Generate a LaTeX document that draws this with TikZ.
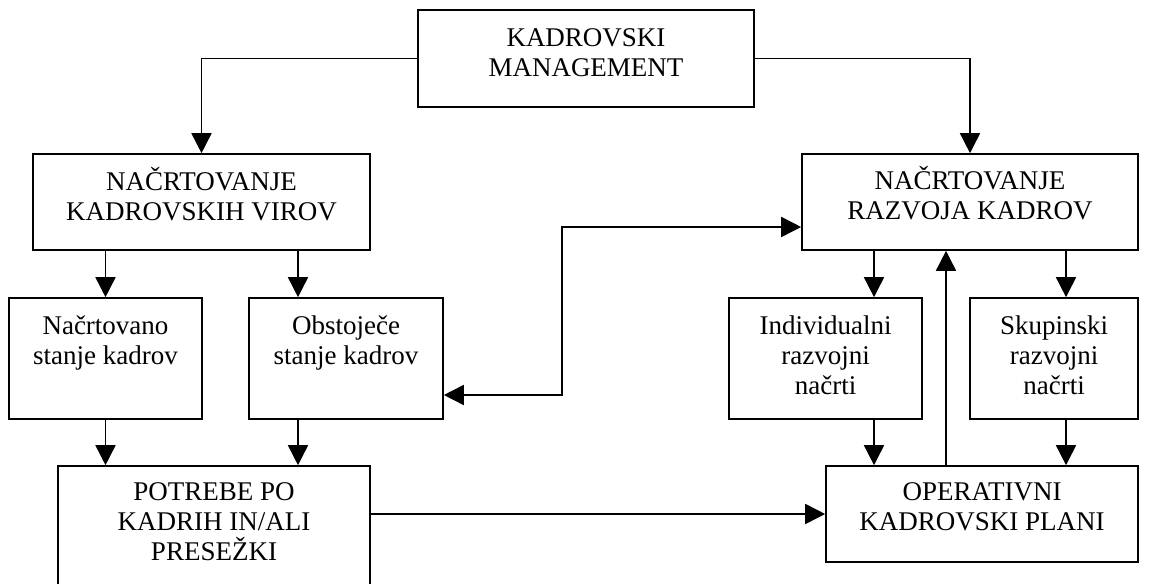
\documentclass[tikz,border=0pt]{standalone}
\usepackage{fontspec}
\setmainfont{Liberation Serif}
\usetikzlibrary{arrows.meta}
\tikzset{
	okvir/.style={draw, line width=0.8pt, inner sep=0pt},
	besedilo/.style={anchor=base, align=center, inner sep=0pt, font=\fontsize{13.5}{15}\selectfont},
}
\begin{document}
\begin{tikzpicture}[x=0.5pt, y=-0.5pt, >={Triangle[length=10pt,width=10pt]}, line width=0.8pt]
	\useasboundingbox (0,0) rectangle (1159,583);
	% okvirji
	\node[okvir, minimum width=168pt, minimum height=48.5pt] (mgmt) at (586,58.5) {};
	\node[okvir, minimum width=168.5pt, minimum height=48pt] (virov) at (201.5,202) {};
	\node[okvir, minimum width=168pt, minimum height=48pt] (razvoj) at (970,202) {};
	\node[okvir, minimum width=96.5pt, minimum height=60.5pt] (nacrt) at (105.5,358.5) {};
	\node[okvir, minimum width=97pt, minimum height=60.5pt] (obst) at (346,358.5) {};
	\node[okvir, minimum width=96.5pt, minimum height=60.5pt] (indiv) at (825.5,358.5) {};
	\node[okvir, minimum width=84pt, minimum height=60.5pt] (skup) at (1054,358.5) {};
	\node[okvir, minimum width=156pt, minimum height=72pt] (potreb) at (214,538) {};
	\node[okvir, minimum width=156pt, minimum height=48pt] (oper) at (982,514) {};
	% besedila (base = zadnja vrstica)
	\node[besedilo, yshift=-33.5pt] (mgmt-t) at (mgmt.north) {KADROVSKI\\MANAGEMENT};
	\node[besedilo, yshift=-33.5pt] (virov-t) at (virov.north) {NAČRTOVANJE\\KADROVSKIH VIROV};
	\node[besedilo, yshift=-33pt] (razvoj-t) at (razvoj.north) {NAČRTOVANJE\\RAZVOJA KADROV};
	\node[besedilo, yshift=-33.5pt] (nacrt-t) at (nacrt.north) {Načrtovano\\stanje kadrov};
	\node[besedilo, yshift=-33.5pt] (obst-t) at (obst.north) {Obstoječe\\stanje kadrov};
	\node[besedilo, yshift=-48.5pt] (indiv-t) at (indiv.north) {Individualni\\razvojni\\načrti};
	\node[besedilo, yshift=-48.5pt] (skup-t) at (skup.north) {Skupinski\\razvojni\\načrti};
	\node[besedilo, yshift=-47.5pt] (potreb-t) at (potreb.north) {POTREBE PO\\KADRIH IN/ALI\\PRESEŽKI};
	\node[besedilo, yshift=-32.5pt] (oper-t) at (oper.north) {OPERATIVNI\\KADROVSKI PLANI};
	% tocke za puscice
	\coordinate (xo) at (298,0);
	\coordinate (xi) at (874,0);
	\coordinate (xu) at (946,0);
	\coordinate (xs) at (1066,0);
	\coordinate (b1) at (562,395);
	\coordinate (b2) at (562,227);
	% puscice
	\draw[->] (mgmt.west) -| (virov.north);
	\draw[->] (mgmt.east) -| (razvoj.north);
	\draw[->] (virov.south -| nacrt.north) -- (nacrt.north);
	\draw[->] (virov.south -| xo) -- (obst.north -| xo);
	\draw[->] (nacrt.south) -- (potreb.north -| nacrt.south);
	\draw[->] (obst.south -| xo) -- (potreb.north -| xo);
	\draw[<->] (obst.east |- b1) -- (b1) -- (b2) -- (razvoj.west |- b2);
	\draw[->] (razvoj.south -| xi) -- (indiv.north -| xi);
	\draw[->] (indiv.south -| xi) -- (oper.north -| xi);
	\draw[->] (oper.north -| xu) -- (razvoj.south -| xu);
	\draw[->] (razvoj.south -| xs) -- (skup.north -| xs);
	\draw[->] (skup.south -| xs) -- (oper.north -| xs);
	\draw[->] (potreb.east |- oper.west) -- (oper.west);
\end{tikzpicture}
\end{document}
